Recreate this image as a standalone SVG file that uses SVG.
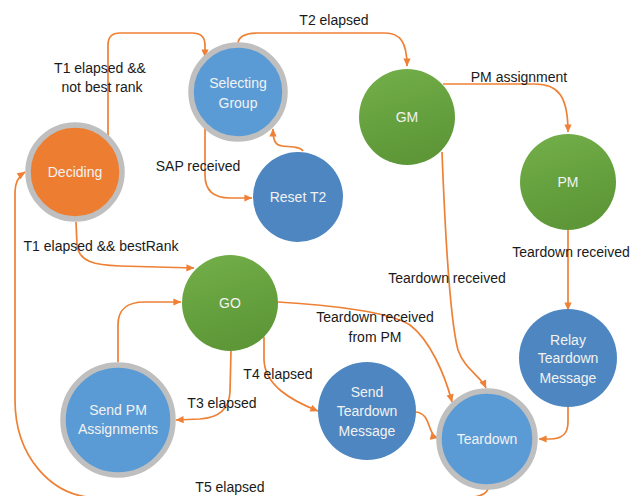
<svg xmlns="http://www.w3.org/2000/svg" width="635" height="496" viewBox="0 0 635 496">
<style>
.edge{fill:none;stroke:#EE8135;stroke-width:1.7;marker-end:url(#arr)}
.ring{stroke:#BFBFBF;stroke-width:5.5}
.lb{font-family:"Liberation Sans",Arial,sans-serif;font-size:14px;fill:#1a1a1a;text-anchor:middle}
.nt{font-family:"Liberation Sans",Arial,sans-serif;font-size:14px;fill:#F2F2F2;text-anchor:middle}
.orange{fill:#ED7D31}
.blue{fill:#5B9BD5}
.dblue{fill:#4D86C0}
.green{fill:url(#gg)}
</style>
<defs>
<marker id="arr" viewBox="0 0 10 10" refX="9.5" refY="5" markerWidth="9" markerHeight="8" orient="auto" markerUnits="userSpaceOnUse">
<path d="M0,0.5 L10,5 L0,9.5 z" fill="#EE8135"/>
</marker>
<linearGradient id="gg" x1="0" y1="0" x2="0.3" y2="1">
<stop offset="0" stop-color="#73AF4A"/>
<stop offset="1" stop-color="#5D9737"/>
</linearGradient>
</defs>

<g id="connectors">
<path class="edge" d="M108,137 L108,45 Q108,33 120,33 L192,33 Q205,33 205,45 L205,57"/>
<path class="edge" d="M238,44 C238,36 245,33 258,33 L385,33 C400,33 407,42 407,66"/>
<path class="edge" d="M443,84 L535,84 C558,84 568,96 568,132"/>
<path class="edge" d="M205,127 L205,175 C205,192 215,198 230,198 L252,198"/>
<path class="edge" d="M303,151 C300,146 290,147 282,146 C275,145 273,140 273,129"/>
<path class="edge" d="M76,222 L77,245 C79,262 95,265 120,266 L194,268"/>
<path class="edge" d="M118,362 L118,325 C118,308 128,302 145,302 L181,302"/>
<path class="edge" d="M231,351 L230,392 C229,412 215,418 200,419 L176,420"/>
<path class="edge" d="M264,337 L264,360 C265,385 290,400 318,411"/>
<path class="edge" d="M278,302 C330,305 390,312 410,325 C430,340 445,375 452,402"/>
<path class="edge" d="M442,152 C445,230 450,320 458,350 C465,370 480,375 486,388"/>
<path class="edge" d="M568,230 L568,310"/>
<path class="edge" d="M568,407 L568,422 C568,436 560,439 550,439 L539,439"/>
<path class="edge" d="M416,412 C425,413 427,420 430,428 C432,434 434,437 438,438"/>
<path class="edge" d="M488,489 C486,495 478,498 460,498 L100,498 C50,498 15,455 15,400 L15,192 C15,182 19,176 25,172"/>
</g>

<g id="labels">
<text class="lb" x="334" y="25">T2 elapsed</text>
<text class="lb" x="100" y="73">T1 elapsed &amp;&amp;</text>
<text class="lb" x="102" y="92">not best rank</text>
<text class="lb" x="198" y="171">SAP received</text>
<text class="lb" x="519" y="82">PM assignment</text>
<text class="lb" x="101" y="251">T1 elapsed &amp;&amp; bestRank</text>
<text class="lb" x="571" y="257">Teardown received</text>
<text class="lb" x="447" y="283">Teardown received</text>
<text class="lb" x="375" y="322">Teardown received</text>
<text class="lb" x="375" y="342">from PM</text>
<text class="lb" x="278" y="379">T4 elapsed</text>
<text class="lb" x="222" y="408">T3 elapsed</text>
<text class="lb" x="230" y="492">T5 elapsed</text>
</g>

<g id="deciding">
<circle class="orange ring" cx="75" cy="172" r="47"/>
<text class="nt" x="75" y="177">Deciding</text>
</g>
<g id="selecting-group">
<circle class="blue ring" cx="238" cy="92" r="47"/>
<text class="nt" x="238" y="88">Selecting</text>
<text class="nt" x="238" y="108">Group</text>
</g>
<g id="reset-t2">
<circle class="dblue" cx="298" cy="197" r="45"/>
<text class="nt" x="298" y="202">Reset T2</text>
</g>
<g id="gm">
<circle class="green" cx="407" cy="117" r="48"/>
<text class="nt" x="407" y="122">GM</text>
</g>
<g id="pm">
<circle class="green" cx="568" cy="182" r="48"/>
<text class="nt" x="568" y="187">PM</text>
</g>
<g id="go">
<circle class="green" cx="230" cy="303" r="48"/>
<text class="nt" x="230" y="308">GO</text>
</g>
<g id="send-pm-assignments">
<circle class="blue ring" cx="118" cy="420" r="55"/>
<text class="nt" x="118" y="415">Send PM</text>
<text class="nt" x="118" y="434">Assignments</text>
</g>
<g id="send-teardown-message">
<circle class="dblue" cx="367" cy="411" r="49"/>
<text class="nt" x="367" y="397">Send</text>
<text class="nt" x="367" y="416">Teardown</text>
<text class="nt" x="367" y="436">Message</text>
</g>
<g id="relay-teardown-message">
<circle class="dblue" cx="568" cy="358" r="49"/>
<text class="nt" x="568" y="345">Relay</text>
<text class="nt" x="568" y="363">Teardown</text>
<text class="nt" x="568" y="383">Message</text>
</g>
<g id="teardown">
<circle class="blue ring" cx="487" cy="439" r="48"/>
<text class="nt" x="487" y="444">Teardown</text>
</g>
</svg>
